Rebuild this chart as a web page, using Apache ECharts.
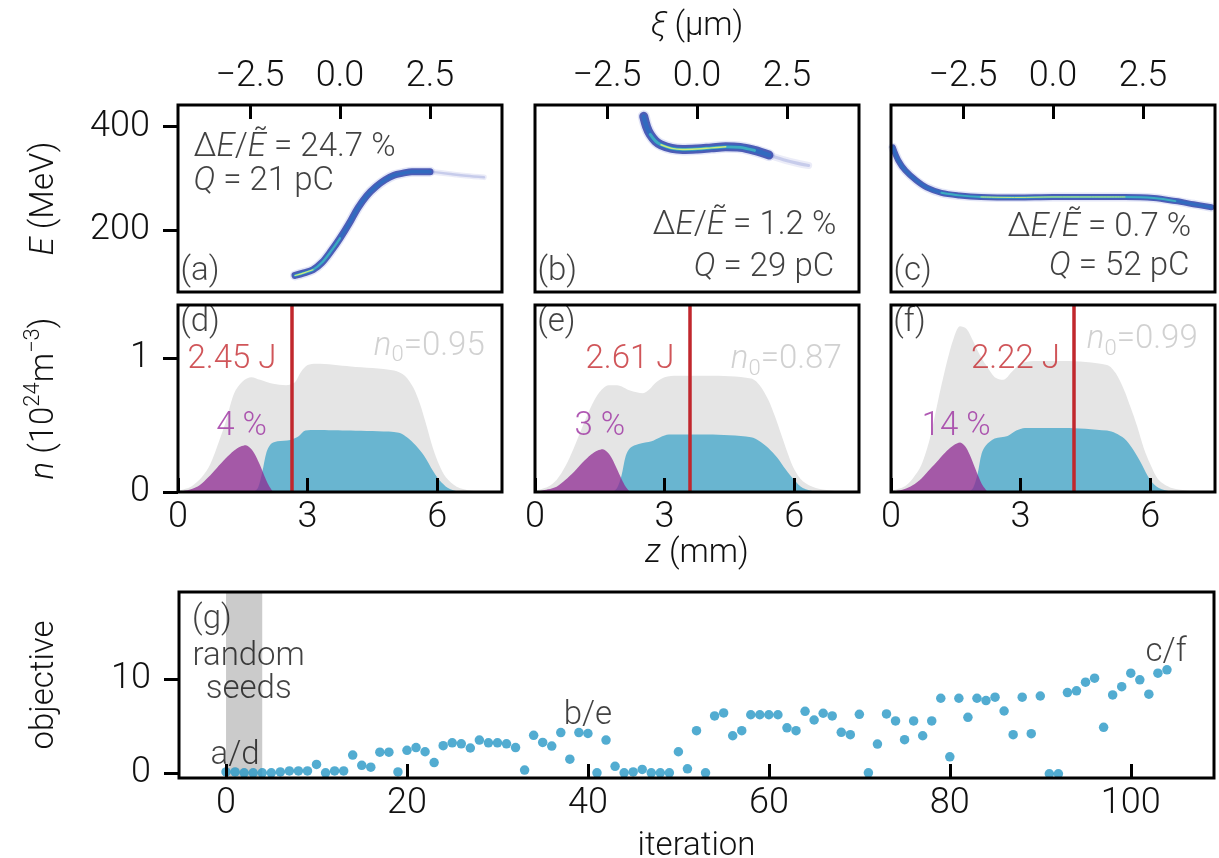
<!DOCTYPE html>
<html>
<head>
<meta charset="utf-8">
<script src="https://cdn.jsdelivr.net/npm/echarts@6/dist/echarts.min.js"></script>
<style>
  html, body { margin: 0; padding: 0; background: #ffffff; }
  #chart { width: 1219px; height: 858px; }
</style>
</head>
<body>
<div id="chart"></div>
<script>
// ---------- (a)-(c): longitudinal phase space, centre line of each bunch ----------
const beamA_xi = [-1.25, -1.0, -0.75, -0.5, -0.25, 0.0, 0.25, 0.5, 0.75, 1.0, 1.25, 1.5, 1.75, 2.0, 2.5, 3.0, 3.5, 4.0];
const beamA_E  = [112, 117, 123, 137, 159, 184, 212, 243, 267, 284, 297, 306, 310, 313, 313, 309, 305, 302];
const beamB_xi = [-1.48, -1.4, -1.3, -1.15, -1.0, -0.7, -0.4, 0.0, 0.4, 0.8, 1.2, 1.6, 2.0, 2.4, 2.8, 3.1];
const beamB_E  = [420, 400, 385, 372, 365, 358, 356, 357, 359, 361, 360, 354, 345, 336, 329, 325];
const beamC_xi = [-4.45, -4.3, -4.1, -3.8, -3.5, -3.1, -2.6, -2.0, -1.0, 0.0, 1.0, 2.0, 2.8, 3.4, 3.9, 4.4];
const beamC_E  = [360, 335, 315, 296, 282, 272, 267, 264, 263, 264, 264, 264, 262, 256, 250, 244];

const energySpread = ['24.7', '1.2', '0.7'];   // ΔE/Ẽ in %
const charge       = ['21', '29', '52'];       // Q in pC

// ---------- (d)-(f): plasma density profiles along z ----------
const gasD_z = [0, 0.3, 0.55, 0.75, 0.95, 1.1, 1.3, 1.5, 1.7, 1.9, 2.2, 2.5, 2.7, 2.85, 3.0, 3.2, 4.0, 5.0, 5.25, 5.45, 5.6, 5.75, 5.9, 6.05, 6.2, 6.45, 6.8, 7.5];
const gasD_n = [0.01, 0.04, 0.11, 0.21, 0.38, 0.52, 0.74, 0.83, 0.86, 0.84, 0.81, 0.80, 0.82, 0.90, 0.95, 0.96, 0.94, 0.91, 0.87, 0.78, 0.66, 0.50, 0.33, 0.20, 0.11, 0.04, 0.01, 0.0];
const mainD_z = [1.75, 1.85, 1.95, 2.05, 2.15, 2.3, 2.6, 2.8, 2.95, 3.2, 4.0, 5.0, 5.15, 5.3, 5.5, 5.7, 5.9, 6.05, 6.25, 6.5, 7.5];
const mainD_n = [0, 0.03, 0.15, 0.30, 0.36, 0.38, 0.39, 0.42, 0.46, 0.465, 0.46, 0.45, 0.44, 0.41, 0.35, 0.27, 0.16, 0.09, 0.03, 0.005, 0];
const dopeD_z = [0, 0.3, 0.5, 0.7, 0.9, 1.1, 1.3, 1.45, 1.57, 1.7, 1.8, 1.9, 2.0, 2.1, 2.2];
const dopeD_n = [0.0, 0.02, 0.05, 0.11, 0.18, 0.25, 0.31, 0.34, 0.35, 0.32, 0.27, 0.20, 0.12, 0.05, 0.0];

const gasE_z = [0, 0.3, 0.5, 0.7, 0.9, 1.1, 1.3, 1.5, 1.7, 1.9, 2.2, 2.5, 2.65, 2.8, 3.0, 3.3, 4.0, 5.0, 5.2, 5.4, 5.55, 5.7, 5.85, 6.0, 6.2, 6.5, 6.9, 7.5];
const gasE_n = [0.01, 0.04, 0.09, 0.19, 0.33, 0.49, 0.64, 0.75, 0.80, 0.80, 0.76, 0.74, 0.77, 0.82, 0.86, 0.87, 0.87, 0.85, 0.80, 0.69, 0.57, 0.43, 0.29, 0.17, 0.08, 0.03, 0.01, 0];
const mainE_z = [1.8, 1.9, 2.0, 2.1, 2.2, 2.4, 2.7, 2.9, 3.1, 3.4, 4.0, 5.0, 5.2, 5.4, 5.6, 5.8, 6.0, 6.2, 6.5, 7.5];
const mainE_n = [0, 0.03, 0.12, 0.27, 0.33, 0.36, 0.38, 0.41, 0.43, 0.43, 0.43, 0.41, 0.38, 0.33, 0.26, 0.17, 0.09, 0.03, 0.005, 0];
const dopeE_z = [0, 0.3, 0.5, 0.7, 0.9, 1.1, 1.3, 1.45, 1.57, 1.7, 1.8, 1.9, 2.0, 2.1, 2.2];
const dopeE_n = [0, 0.02, 0.04, 0.09, 0.15, 0.22, 0.28, 0.31, 0.32, 0.29, 0.24, 0.17, 0.10, 0.04, 0];

const gasF_z = [0, 0.3, 0.5, 0.7, 0.9, 1.1, 1.3, 1.45, 1.6, 1.75, 1.9, 2.05, 2.2, 2.4, 2.6, 2.8, 3.0, 3.3, 4.0, 5.0, 5.2, 5.4, 5.55, 5.7, 5.85, 6.0, 6.2, 6.5, 6.9, 7.5];
const gasF_n = [0.01, 0.04, 0.10, 0.20, 0.40, 0.70, 0.98, 1.15, 1.24, 1.22, 1.13, 1.03, 0.95, 0.86, 0.84, 0.90, 0.96, 0.98, 0.98, 0.95, 0.89, 0.76, 0.63, 0.49, 0.33, 0.21, 0.09, 0.03, 0.01, 0];
const mainF_z = [1.8, 1.9, 2.0, 2.1, 2.2, 2.4, 2.7, 2.9, 3.1, 3.4, 4.0, 5.0, 5.2, 5.4, 5.6, 5.8, 6.0, 6.2, 6.5, 7.5];
const mainF_n = [0, 0.03, 0.13, 0.29, 0.35, 0.40, 0.42, 0.46, 0.48, 0.48, 0.48, 0.46, 0.44, 0.40, 0.32, 0.21, 0.09, 0.03, 0.005, 0];
const dopeF_z = [0, 0.3, 0.5, 0.7, 0.9, 1.1, 1.3, 1.45, 1.6, 1.72, 1.82, 1.92, 2.02, 2.12, 2.24];
const dopeF_n = [0, 0.02, 0.05, 0.10, 0.17, 0.24, 0.31, 0.35, 0.37, 0.34, 0.28, 0.20, 0.12, 0.05, 0];

const focusZ      = [2.64, 3.58, 4.23];        // laser focus position (mm)
const laserEnergy = ['2.45', '2.61', '2.22'];  // J
const peakDensity = ['0.95', '0.87', '0.99'];  // n0
const dopantShare = ['4', '3', '14'];          // %

// ---------- (g): optimisation history ----------
const objective = [
  0.1, 0.1, 0, 0, 0, 0, 0.1, 0.2, 0.2, 0.2,
  0.9, 0, 0.2, 0.2, 1.9, 0.8, 0.6, 2.2, 2.2, 0.1,
  2.4, 2.7, 2.25, 1.1, 2.9, 3.2, 3.1, 2.65, 3.5, 3.2,
  3.2, 3.1, 2.7, 0.3, 4.0, 3.25, 2.86, 4.3, 1.46, 4.3,
  4.2, 0.0, 3.5, 0.7, 0.0, 0.1, 0.36, 0, 0, 0,
  2.25, 0.43, 4.5, 0, 6.07, 6.4, 3.96, 4.5, 6.2, 6.2,
  6.2, 6.2, 4.8, 4.5, 6.57, 5.64, 6.36, 6.07, 4.32, 4.07,
  6.25, 0, 3.07, 6.29, 5.54, 3.54, 5.54, 3.96, 5.54, 7.96,
  1.71, 7.96, 5.93, 7.96, 7.71, 8.07, 6.6, 4.07, 8.07, 4.18,
  8.2, -0.1, -0.1, 8.57, 8.75, 9.68, 10.1, 4.86, 8.32, 9.2,
  10.64, 9.93, 8.39, 10.64, 11.0
];
const seedBand = [0, 4];

// tick positions
const xiTicks   = [-2.5, 0, 2.5];
const eTicks    = [200, 400];
const zTicks    = [0, 3, 6];
const nTicks    = [0, 1];
const iterTicks = [0, 20, 40, 60, 80, 100];
const objTicks  = [0, 10];

// ---------- styling helpers ----------
const FONT = 'Roboto';
const WEIGHT = 300;
const INK = '#111111';
const TICK_SIZE = 36;
const TEXT_SIZE = 33;

function richSet(size, color) {
  const base = { fontFamily: FONT, fontWeight: WEIGHT, fontSize: size, color: color };
  return {
    r:   Object.assign({}, base),
    i:   Object.assign({}, base, { fontStyle: 'italic' }),
    sub: Object.assign({}, base, { fontSize: Math.round(size * 0.68), verticalAlign: 'bottom', padding: [0, 0, -4, 0] }),
    sup: Object.assign({}, base, { fontSize: Math.round(size * 0.68), verticalAlign: 'top', padding: [-6, 0, 0, 0] })
  };
}

const pairs = (xs, ys) => xs.map((x, i) => [x, ys[i]]);
const fmtXi = v => (v < 0 ? '\u2212' : '') + Math.abs(v).toFixed(1);

const tickStyle = { color: '#000', width: 3 };
const labelBase = { fontFamily: FONT, fontWeight: WEIGHT, fontSize: TICK_SIZE, color: INK };
const noLine = { show: false, onZero: false };

// ---------- grids (fixed boxes, no automatic shrinking) ----------
const colLeft = [178, 535, 891];
const panelW = 324;
const grids = [];
colLeft.forEach(l => grids.push({ left: l, top: 105, width: panelW, height: 187 }));
colLeft.forEach(l => grids.push({ left: l, top: 305, width: panelW, height: 187 }));
grids.push({ left: 179, top: 592, width: 1035, height: 186 });
grids.forEach(g => Object.assign(g, {
  show: true, borderColor: '#000', borderWidth: 3, backgroundColor: 'transparent', z: 20,
  containLabel: false, outerBoundsMode: 'none'
}));

const xAxes = [];
const yAxes = [];

// top row: ξ on top edge, E on the left
for (let k = 0; k < 3; k++) {
  xAxes.push({
    gridIndex: k, type: 'value', position: 'top', min: -4.5, max: 4.5,
    axisLine: noLine, splitLine: { show: false },
    axisTick: { show: true, inside: true, length: 14, lineStyle: tickStyle, customValues: xiTicks },
    axisLabel: Object.assign({ show: true, margin: 10, customValues: xiTicks, formatter: fmtXi }, labelBase),
    name: k === 1 ? '{i|ξ}{r| (μm)}' : '', nameLocation: 'middle', nameGap: 62,
    nameTextStyle: { rich: richSet(TEXT_SIZE, INK) }, z: 21
  });
  yAxes.push({
    gridIndex: k, type: 'value', min: 80, max: 442,
    axisLine: noLine, splitLine: { show: false },
    axisTick: { show: k === 0, inside: false, length: 15, lineStyle: tickStyle, customValues: eTicks },
    axisLabel: Object.assign({ show: k === 0, margin: 28, customValues: eTicks }, labelBase),
    name: k === 0 ? '{i|E}{r| (MeV)}' : '', nameLocation: 'middle', nameGap: 117, nameRotate: 90,
    nameTextStyle: { rich: richSet(TEXT_SIZE, INK) }, z: 21
  });
}
// middle row: z along the bottom, n on the left
for (let k = 0; k < 3; k++) {
  xAxes.push({
    gridIndex: 3 + k, type: 'value', position: 'bottom', min: 0, max: 7.5,
    axisLine: noLine, splitLine: { show: false },
    axisTick: { show: true, inside: true, length: 14, lineStyle: tickStyle, customValues: zTicks },
    axisLabel: Object.assign({ show: true, margin: 8, customValues: zTicks }, labelBase),
    name: k === 1 ? '{i|z}{r| (mm)}' : '', nameLocation: 'middle', nameGap: 42,
    nameTextStyle: { rich: richSet(TEXT_SIZE, INK) }, z: 21
  });
  yAxes.push({
    gridIndex: 3 + k, type: 'value', min: 0, max: 1.4,
    axisLine: noLine, splitLine: { show: false },
    axisTick: { show: k === 0, inside: false, length: 15, lineStyle: tickStyle, customValues: nTicks },
    axisLabel: Object.assign({ show: k === 0, margin: 28, customValues: nTicks }, labelBase),
    name: k === 0 ? '{i|n}{r| (10}{sup|24}{r|m}{sup|−3}{r|)}' : '', nameLocation: 'middle', nameGap: 117, nameRotate: 90,
    nameTextStyle: { rich: richSet(TEXT_SIZE, INK) }, z: 21
  });
}
// bottom row: iteration / objective
xAxes.push({
  gridIndex: 6, type: 'value', position: 'bottom', min: -5.2, max: 109.2,
  axisLine: noLine, splitLine: { show: false },
  axisTick: { show: true, inside: true, length: 14, lineStyle: tickStyle, customValues: iterTicks },
  axisLabel: Object.assign({ show: true, margin: 8, customValues: iterTicks }, labelBase),
  name: 'iteration', nameLocation: 'middle', nameGap: 52,
  nameTextStyle: { fontFamily: FONT, fontWeight: WEIGHT, fontSize: TEXT_SIZE, color: INK }, z: 21
});
yAxes.push({
  gridIndex: 6, type: 'value', min: -0.55, max: 19.3,
  axisLine: noLine, splitLine: { show: false },
  axisTick: { show: true, inside: false, length: 15, lineStyle: tickStyle, customValues: objTicks },
  axisLabel: Object.assign({ show: true, margin: 28, customValues: objTicks }, labelBase),
  name: 'objective', nameLocation: 'middle', nameGap: 118, nameRotate: 90,
  nameTextStyle: { fontFamily: FONT, fontWeight: WEIGHT, fontSize: TEXT_SIZE, color: INK }, z: 21
});

// ---------- series ----------
const series = [];

// phase-space bunch drawn as stacked strokes: soft halo, blue body, brighter inner and core
function bunch(g, xi, E, cfg) {
  const pts = pairs(xi, E);
  const main = pts.slice(cfg.main[0], cfg.main[1] + 1);
  const tail = pts.slice(cfg.main[1]);
  const inner = pts.slice(cfg.inner[0], cfg.inner[1] + 1);
  const core = pts.slice(cfg.core[0], cfg.core[1] + 1);
  const stroke = (data, width, color, opacity, z) => ({
    type: 'line', xAxisIndex: g, yAxisIndex: g, data: data, smooth: 0.35,
    showSymbol: false, silent: true, animation: false, z: z,
    lineStyle: { width: width, color: color, opacity: opacity, cap: 'round', join: 'round' }
  });
  if (tail.length > 1) {
    series.push(stroke(tail, cfg.w * 0.8, '#8e98d8', 0.18, 2));
    series.push(stroke(tail, cfg.w * 0.35, '#4b5cc0', 0.22, 2));
  }
  series.push(stroke(main, cfg.w + 3, '#8f9ae0', 0.25, 2));
  series.push(stroke(main, cfg.w, '#3344aa', 0.85, 3));
  series.push(stroke(main, cfg.w * 0.5, '#2f6cc0', 0.9, 4));
  series.push(stroke(inner, cfg.w * 0.32, '#3fb2c0', 0.9, 5));
  series.push(stroke(core, cfg.w * 0.16, '#d8ee78', 0.95, 6));
}
bunch(0, beamA_xi, beamA_E, { main: [0, 14], inner: [0, 5], core: [0, 2], w: 7 });
bunch(1, beamB_xi, beamB_E, { main: [0, 12], inner: [2, 11], core: [4, 9], w: 9 });
bunch(2, beamC_xi, beamC_E, { main: [0, 15], inner: [5, 13], core: [7, 11], w: 6 });

// density profiles
const profiles = [
  [gasD_z, gasD_n, mainD_z, mainD_n, dopeD_z, dopeD_n],
  [gasE_z, gasE_n, mainE_z, mainE_n, dopeE_z, dopeE_n],
  [gasF_z, gasF_n, mainF_z, mainF_n, dopeF_z, dopeF_n]
];
const area = (g, data, color, opacity, z) => ({
  type: 'line', xAxisIndex: g, yAxisIndex: g, data: data, smooth: 0.3,
  showSymbol: false, silent: true, animation: false, z: z,
  lineStyle: { width: 0 }, areaStyle: { color: color, opacity: opacity, origin: 'start' }
});
profiles.forEach((p, k) => {
  const g = 3 + k;
  series.push(area(g, pairs(p[0], p[1]), '#e5e5e5', 1, 2));
  series.push(area(g, pairs(p[2], p[3]), '#69b5d0', 1, 3));
  series.push(area(g, pairs(p[4], p[5]), '#8e2a91', 0.75, 4));
  series.push({
    type: 'line', xAxisIndex: g, yAxisIndex: g, data: [], silent: true, animation: false, z: 5,
    markLine: {
      silent: true, symbol: 'none', animation: false, label: { show: false },
      lineStyle: { color: '#c1272d', width: 3.5, type: 'solid' },
      data: [{ xAxis: focusZ[k] }]
    }
  });
});

// optimisation scan
series.push({
  type: 'line', xAxisIndex: 6, yAxisIndex: 6, data: [], silent: true, animation: false, z: 1,
  markArea: { silent: true, itemStyle: { color: '#cbcbcb' }, data: [[{ xAxis: seedBand[0] }, { xAxis: seedBand[1] }]] }
});
series.push({
  type: 'scatter', xAxisIndex: 6, yAxisIndex: 6, symbolSize: 9.5, silent: true, animation: false, z: 3,
  itemStyle: { color: '#2797c5' },
  data: objective.map((v, i) => [i, v])
});

// ---------- in-panel text ----------
function note(g, x, y, text, align, color, size, extra) {
  series.push({
    type: 'scatter', xAxisIndex: g, yAxisIndex: g, symbolSize: 0, silent: true, animation: false, z: 10,
    clip: false, data: [[x, y]],
    label: Object.assign({
      show: true, position: [0, 0], align: align, verticalAlign: 'middle',
      formatter: text, rich: richSet(size, color),
      fontFamily: FONT, fontWeight: WEIGHT, fontSize: size, color: color
    }, extra || {})
  });
}
const spread = k => '{r|Δ}{i|E}{r|/}{i|Ẽ}{r| = ' + energySpread[k] + ' %}';
const q = k => '{i|Q}{r| = ' + charge[k] + ' pC}';

note(0, -4.07, 360, spread(0), 'left', INK, TEXT_SIZE);
note(0, -4.07, 293, q(0), 'left', INK, TEXT_SIZE);
note(0, -4.43, 119, '{r|(a)}', 'left', INK, TEXT_SIZE);
note(1, 3.87, 208, spread(1), 'right', INK, TEXT_SIZE);
note(1, 3.81, 127, q(1), 'right', INK, TEXT_SIZE);
note(1, -4.43, 119, '{r|(b)}', 'left', INK, TEXT_SIZE);
note(2, 3.84, 205, spread(2), 'right', INK, TEXT_SIZE);
note(2, 3.79, 128, q(2), 'right', INK, TEXT_SIZE);
note(2, -4.43, 119, '{r|(c)}', 'left', INK, TEXT_SIZE);

const panelTag = ['(d)', '(e)', '(f)'];
const energyTextZ = [2.28, 3.23, 3.91];
const densTextY = [1.09, 0.99, 1.14];
const dopeTextZ = [1.47, 1.5, 1.51];
for (let k = 0; k < 3; k++) {
  const g = 3 + k;
  note(g, 0.05, 1.27, '{r|' + panelTag[k] + '}', 'left', INK, TEXT_SIZE);
  note(g, energyTextZ[k], 0.99, '{r|' + laserEnergy[k] + ' J}', 'right', '#c42a30', TEXT_SIZE);
  note(g, 7.1, densTextY[k], '{i|n}{sub|0}{r|=' + peakDensity[k] + '}', 'right', '#c6c6c6', TEXT_SIZE);
  note(g, dopeTextZ[k], 0.49, '{r|' + dopantShare[k] + ' %}', 'center', '#9c2fa0', TEXT_SIZE);
}

note(6, -3.75, 16.3, '{r|(g)}', 'left', INK, TEXT_SIZE);
note(6, 2.5, 10.6, '{r|random}\n{r|seeds}', 'center', INK, TEXT_SIZE, { lineHeight: 33 });
note(6, 1.0, 1.8, '{r|a/d}', 'center', INK, TEXT_SIZE);
note(6, 40.0, 6.1, '{r|b/e}', 'center', INK, TEXT_SIZE);
note(6, 103.9, 12.8, '{r|c/f}', 'center', INK, TEXT_SIZE);

const chart = echarts.init(document.getElementById('chart'), null, { renderer: 'canvas' });
chart.setOption({
  backgroundColor: '#ffffff',
  animation: false,
  grid: grids,
  xAxis: xAxes,
  yAxis: yAxes,
  series: series
});
</script>
</body>
</html>
